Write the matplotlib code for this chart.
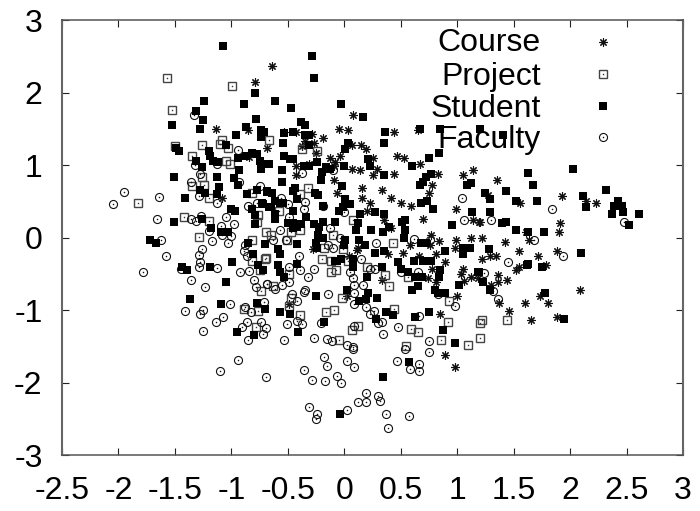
import numpy as np
import matplotlib
matplotlib.use('Agg')
import matplotlib.pyplot as plt

plt.rcParams['font.family'] = ['Liberation Sans', 'DejaVu Sans']
plt.rcParams['axes.unicode_minus'] = False

# values, (x, y)
course = [
    (-0.79,2.14),(-1.14,1.50),(-0.85,1.48),(-0.68,1.23),(-0.84,1.11),(-0.64,2.36),(-1.08,0.55),
    (0.08,1.69),(-0.05,1.50),(0.03,1.48),(0.44,1.45),(0.65,1.48),(-0.53,1.46),(-0.43,1.45),
    (-0.29,1.43),(-0.19,1.37),(-0.35,1.33),(-0.37,1.26),(-0.27,1.30),(-0.25,1.17),(0.07,1.27),
    (0.15,1.28),(0.19,1.22),(-0.13,1.10),(-0.04,1.12),(-0.08,1.04),(-0.09,0.98),(0.25,1.09),
    (0.47,1.12),(0.53,1.09),(0.67,1.01),(-0.43,0.98),(-0.31,1.01),(0.07,0.94),(0.14,0.93),
    (0.29,0.94),(1.14,0.93),(-0.43,0.86),(-0.09,0.80),(0.25,0.86),(0.44,0.87),(0.83,0.88),
    (1.05,0.86),(0.78,0.72),(0.75,0.61),(0.16,0.68),(-0.06,0.61),(0.33,0.66),(0.16,0.55),
    (0.41,0.54),(0.50,0.48),(0.59,0.44),(0.23,0.47),(0.20,0.37),(0.99,0.39),(0.70,0.26),
    (0.35,0.24),(1.14,0.24),(1.19,0.21),(0.41,0.13),(0.77,0.04),(1.12,-0.01),(0.99,-0.03),
    (0.84,-0.05),(0.58,-0.10),(0.76,-0.11),(0.98,-0.14),(-0.28,-0.16),(0.12,-0.15),(0.04,-0.25),
    (0.52,-0.22),(0.39,-0.23),(0.81,-0.23),(0.66,-0.26),(0.89,-0.34),(0.78,-0.44),(1.05,-0.44),
    (1.03,-0.50),(1.12,-0.54),(1.18,-0.56),(1.06,-0.60),(0.74,-0.56),(0.81,-0.62),(0.33,-0.58),
    (1.00,-0.80),(0.02,-0.80),(-0.49,-0.92),(0.11,-0.17),(0.85,-1.06),(0.89,-1.62),(0.98,-1.78),
    (1.35,0.80),(1.27,0.58),(1.56,0.47),(1.93,0.57),(2.14,0.50),(2.23,0.48),(1.20,0.21),
    (1.91,0.20),(1.90,0.08),(1.61,0.08),(1.22,0.00),(1.42,-0.06),(1.64,-0.03),(1.55,-0.18),
    (1.88,-0.19),(1.72,-0.26),(1.22,-0.30),(1.29,-0.25),(1.34,-0.26),(1.79,-0.38),(1.55,-0.41),
    (1.52,-0.45),(1.36,-0.52),(1.44,-0.59),(1.36,-0.62),(1.30,-0.66),(2.09,-0.72),(1.73,-0.81),
    (1.80,-0.90),(1.60,-0.91),(1.37,-0.91),(1.46,-1.02),(1.88,-1.09),(1.65,-1.14),
]

project = [
    (-1.57,2.20),(-0.99,2.09),(-1.53,1.76),(-1.08,1.34),(-1.10,1.29),(-1.03,1.23),(-1.26,1.27),
    (-1.50,1.26),(-1.35,1.12),(-1.05,1.05),(-1.01,1.02),(-0.67,1.34),(-0.37,1.22),(-0.24,1.19),
    (-1.83,0.48),(-1.42,0.28),(-1.20,0.23),(-1.29,0.01),(-1.24,0.73),(-1.26,0.84),(-1.35,0.71),
    (-1.20,0.55),(-0.82,0.61),(-0.76,0.31),(-0.77,0.21),(-0.69,0.07),(-0.82,-0.04),(-0.82,-0.32),
    (-0.69,-0.28),(-0.75,-0.45),(-0.74,-0.74),(-0.89,-0.99),(-0.76,-1.02),(-0.78,-1.23),
    (-0.39,0.60),(-0.32,0.68),(-0.58,0.37),(0.08,0.24),(-0.47,0.08),(-0.39,0.10),(-0.51,-0.03),
    (-0.65,0.03),(-0.10,0.03),(0.43,-0.07),(-0.18,-0.15),(-0.01,-0.16),(-0.70,-0.29),(-0.20,-0.30),
    (-0.12,-0.32),(0.03,-0.33),(0.20,-0.40),(-0.07,-0.45),(-0.12,-0.47),(-0.49,-0.51),(0.36,-0.52),
    (0.56,-0.54),(0.40,-0.67),(-0.63,-0.67),(-0.02,-0.84),(-0.47,-0.84),(-0.49,-0.94),(0.93,-0.88),
    (0.44,-0.98),(-0.09,-1.00),(-0.16,-1.03),(-0.39,-1.07),(0.92,-1.17),(0.07,-1.28),(0.12,-1.22),
    (0.59,-1.26),(0.65,-1.31),(0.86,-1.42),(1.10,-1.48),(-0.05,-1.42),(0.55,-1.50),(1.20,-1.18),
    (1.20,-1.38),(1.44,-1.14),(1.22,-1.14),
]

student = [
    (-1.07,2.64),(-0.79,2.00),(-1.24,1.88),(-0.89,1.84),(-1.31,1.74),(-1.25,1.62),(-0.78,1.64),
    (-1.53,1.55),(-1.28,1.50),(-0.87,1.53),(-0.96,1.42),(-0.74,1.48),(-0.71,1.45),(-0.74,1.39),
    (-1.05,1.28),(-1.49,1.23),(-1.46,1.20),(-1.20,1.19),(-1.19,1.12),(-1.16,1.05),(-1.12,1.04),
    (-1.26,0.97),(-1.31,1.06),(-0.94,1.10),(-0.87,1.13),(-0.82,1.16),(-0.77,1.15),(-0.75,1.06),
    (-0.93,0.93),(-0.74,0.95),(-0.68,1.01),(-1.51,0.83),(-1.13,0.83),(-0.98,0.82),(-0.94,0.72),
    (-1.11,0.69),(-1.28,0.66),(-1.23,0.62),(-1.13,0.60),(-1.41,0.54),(-0.86,0.60),(-0.77,0.66),
    (-0.68,0.63),(-0.73,0.48),(-0.67,0.42),(-0.82,0.39),(-1.00,0.39),(-0.97,0.36),(-0.79,0.31),
    (-0.79,0.19),(-1.26,0.26),(-1.51,0.21),(-1.18,0.13),(-1.09,0.07),(-1.03,0.08),(-1.72,-0.03),
    (-1.67,-0.08),(-0.85,-0.07),(-0.70,-0.09),(-0.81,-0.23),(-0.99,-0.34),(-1.44,-0.40),(-1.39,-0.45),
    (-1.19,-0.40),(-0.76,-0.38),(-0.72,-0.45),(-1.05,-0.62),(-1.37,-0.85),(-1.09,-0.92),(-0.77,-0.90),
    (-0.70,-0.98),(-0.95,-1.31),(-0.80,-1.35),
    (-0.29,2.51),(-0.27,2.20),(-0.61,1.88),(-0.47,1.79),(-0.03,1.84),(0.17,1.66),(-0.38,1.59),
    (-0.35,1.55),(-0.53,1.44),(-0.45,1.46),(-0.35,1.42),(-0.31,1.41),(-0.54,1.31),(-0.31,1.27),
    (0.03,1.30),(0.01,1.22),(0.36,1.46),(0.35,1.31),(0.67,1.49),(0.85,1.49),(1.20,1.50),(1.41,1.42),
    (0.84,1.17),(0.75,1.10),(0.60,0.99),(-0.53,1.13),(-0.48,1.08),(-0.45,1.08),(-0.67,1.01),
    (0.21,1.08),(0.23,0.98),(0.00,0.99),(-0.24,1.04),(-0.36,0.99),(-0.31,0.98),(-0.16,0.97),
    (-0.55,0.93),(-0.55,0.76),(-0.20,0.90),(-0.21,0.80),(-0.13,0.94),(0.35,0.86),(0.77,0.87),
    (0.72,0.83),(0.70,0.76),(0.67,0.72),(1.09,0.73),(1.12,0.75),(-0.44,0.68),(-0.45,0.64),
    (-0.68,0.64),(-0.64,0.62),(-0.26,0.62),(-0.23,0.58),(-0.02,0.71),(-0.42,0.53),(-0.61,0.51),
    (-0.57,0.47),(-0.54,0.47),(-0.72,0.46),(0.01,0.53),(-0.19,0.43),(0.05,0.46),(-0.01,0.42),
    (-0.05,0.36),(-0.65,0.42),(-0.61,0.32),(-0.61,0.26),(-0.45,0.36),(0.14,0.33),(0.27,0.35),
    (0.35,0.33),(0.68,0.48),(0.73,0.50),(0.79,0.40),(1.13,0.35),(-0.34,0.28),(-0.50,0.20),
    (-0.45,0.20),(-0.42,0.15),(-0.38,0.18),(-0.45,0.13),(-0.27,0.18),(-0.22,0.15),(-0.19,0.22),
    (-0.08,0.21),(0.12,0.20),(0.10,0.11),(0.24,0.11),(0.34,0.07),(0.40,0.15),(0.54,0.24),(0.51,0.21),
    (0.54,0.11),(0.53,0.00),(0.95,0.17),(-0.23,0.03),(-0.19,-0.01),(-0.25,-0.08),(-0.24,-0.15),
    (0.01,-0.04),(0.00,-0.10),(0.13,-0.04),(0.18,-0.11),(-0.70,-0.09),(-0.42,-0.09),(-0.59,-0.16),
    (-0.57,-0.23),(0.27,-0.22),(0.35,-0.19),(0.68,-0.07),(0.72,-0.08),(0.89,-0.18),(1.05,-0.14),
    (1.05,-0.23),(1.11,-0.14),(0.62,-0.32),(0.70,-0.33),(0.77,-0.32),(0.48,-0.34),(0.08,-0.29),
    (-0.06,-0.32),(-0.03,-0.29),(-0.08,-0.33),(-0.42,-0.36),(-0.59,-0.38),(-0.72,-0.45),(0.33,-0.40),
    (0.08,-0.41),(0.50,-0.43),(0.56,-0.48),(0.85,-0.45),(1.18,-0.48),(-0.57,-0.48),(-0.53,-0.55),
    (0.63,-0.55),(0.69,-0.55),(0.84,-0.55),(0.20,-0.55),(0.65,-0.67),(0.60,-0.73),(1.02,-0.66),
    (0.80,-0.72),(0.83,-0.76),(0.89,-0.76),(0.21,-0.76),(0.02,-0.72),(-0.25,-0.80),(0.29,-0.83),
    (0.19,-0.85),(0.13,-0.88),(0.75,-1.03),(0.37,-1.03),(0.43,-1.07),(0.63,-1.09),(-0.57,-1.03),
    (-0.48,-1.05),(-0.41,-1.31),(-0.18,-1.17),(0.28,-1.13),(0.87,-1.28),(0.98,-1.45),(0.57,-1.72),
    (0.34,-1.93),(-0.04,-2.44),
    (2.03,0.94),(1.63,0.89),(1.67,0.72),(1.25,0.62),(1.29,0.53),(1.43,0.64),(1.52,0.50),(1.71,0.51),
    (2.11,0.57),(2.14,0.42),(2.32,0.65),(2.42,0.51),(2.39,0.44),(2.46,0.44),(2.37,0.33),(2.47,0.35),
    (2.61,0.32),(2.52,0.17),(1.29,0.35),(1.40,0.20),(1.43,0.21),(1.52,0.11),(1.63,0.07),(1.77,0.08),
    (2.10,-0.22),(1.28,-0.16),(1.63,-0.36),(1.62,-0.38),(1.75,-0.41),(1.19,-0.48),(1.23,-0.62),
    (1.29,-0.73),(1.78,-0.77),(1.95,-1.13),
]

faculty = [
    (-1.33,1.69),(-0.94,1.21),(-1.32,1.00),(-1.13,1.01),(-1.95,0.63),(-2.05,0.46),(-1.64,0.56),
    (-1.66,0.25),(-1.28,0.88),(-1.36,0.76),(-1.29,0.57),(-1.13,0.47),(-1.36,0.25),(-1.31,0.23),
    (-1.27,0.30),(-1.05,0.28),(-0.98,0.19),(-1.09,0.16),(-1.20,0.09),(-1.08,0.04),(-1.00,0.02),
    (-1.62,-0.04),(-1.17,-0.05),(-1.03,-0.08),(-0.88,-0.11),(-0.89,-0.18),(-1.26,-0.16),(-1.29,-0.24),
    (-1.58,-0.25),(-0.86,-0.26),(-1.28,-0.34),(-1.29,-0.41),(-1.45,-0.44),(-1.13,-0.42),(-1.78,-0.47),
    (-0.92,-0.47),(-0.84,-0.46),(-1.36,-0.59),(-1.23,-0.68),(-0.80,-0.59),(-0.78,-0.68),(-0.68,-0.64),
    (-0.71,-0.89),(-1.01,-0.92),(-1.41,-1.02),(-1.25,-1.00),(-1.28,-1.05),(-0.88,-0.96),(-0.83,-1.03),
    (-1.07,-1.10),(-0.85,0.44),(-0.77,0.47),(-0.75,0.71),(-0.93,0.76),(-1.14,-1.17),(-1.25,-1.29),
    (-0.91,-1.24),(-0.86,-1.17),(-0.74,-1.16),(-0.69,-1.25),(-0.72,-1.33),(-0.85,-1.42),(-0.94,-1.69),
    (-1.10,-1.84),(-0.69,-1.92),
    (-0.37,0.89),(-0.10,0.93),(1.04,0.55),(-0.56,0.54),(-0.35,0.49),(-0.50,0.46),(-0.36,0.40),
    (-0.19,0.43),(0.00,0.35),(-0.49,0.28),(1.06,0.24),(-0.57,0.11),(-0.13,0.13),(-0.04,0.00),
    (-0.63,-0.04),(-0.52,-0.03),(0.28,-0.07),(0.62,-0.02),(0.76,-0.04),(-0.14,-0.11),(-0.10,-0.15),
    (-0.40,-0.25),(0.15,-0.30),(-0.49,-0.40),(-0.39,-0.45),(-0.27,-0.43),(0.23,-0.43),(0.27,-0.44),
    (0.05,-0.47),(-0.32,-0.55),(0.08,-0.56),(0.50,-0.47),(0.65,-0.48),(-0.68,-0.64),(-0.61,-0.71),
    (-0.55,-0.66),(-0.49,-0.62),(-0.35,-0.72),(-0.36,-0.75),(0.09,-0.66),(0.17,-0.65),(0.09,-0.77),
    (-0.14,-0.78),(-0.46,-0.78),(-0.42,-0.88),(0.09,-0.92),(0.19,-0.96),(0.26,-1.01),(0.23,-1.06),
    (0.83,-0.78),(0.98,-0.94),(0.66,-1.08),(-0.51,-1.19),(-0.42,-1.15),(-0.37,-1.19),(-0.53,-1.41),
    (-0.27,-1.38),(-0.21,-1.18),(-0.15,-1.40),(-0.11,-1.43),(0.02,-1.48),(0.08,-1.51),(0.08,-1.54),
    (0.09,-1.22),(0.30,-1.18),(0.33,-1.17),(0.34,-1.33),(0.48,-1.24),(0.75,-1.43),(0.75,-1.58),
    (0.54,-1.54),(0.47,-1.71),(0.66,-1.74),(0.58,-1.82),(0.66,-1.84),(-0.18,-1.65),(-0.15,-1.77),
    (0.02,-1.70),(0.09,-1.79),(-0.36,-1.83),(-0.29,-1.96),(-0.17,-1.98),(-0.06,-1.91),(-0.03,-2.01),
    (0.19,-2.14),(0.30,-2.18),(0.32,-2.26),(0.12,-2.27),(0.19,-2.27),(-0.31,-2.34),(-0.24,-2.43),
    (-0.25,-2.50),(0.02,-2.38),(0.37,-2.43),(0.57,-2.46),(0.39,-2.63),
    (1.30,0.24),(1.84,0.39),(2.48,0.22),(1.68,-0.04),(1.94,-0.25),(1.45,-0.34),(1.24,-0.49),
    (1.32,-0.74),(1.36,-0.85),
]

x_ticks = [-2.5, -2, -1.5, -1, -0.5, 0, 0.5, 1, 1.5, 2, 2.5, 3]
x_labels = ['-2.5', '-2', '-1.5', '-1', '-0.5', '0', '0.5', '1', '1.5', '2', '2.5', '3']
y_ticks = [-3, -2, -1, 0, 1, 2, 3]
key_names = ['Course', 'Project', 'Student', 'Faculty']

fig = plt.figure(figsize=(7.0, 5.11), dpi=100)
ax = fig.add_axes([62/700, 1-455/511, 621/700, 435/511])


def draw_course(ax, x, y, **kw):
    ax.plot(x, y, ls='none', marker=(8, 2, 0), ms=6, mew=0.8, color='#111111', zorder=3, **kw)


def draw_project(ax, x, y, **kw):
    ax.plot(x, y, ls='none', marker='s', ms=6.2, mew=1.0, mfc='none', mec='#444444', zorder=4, **kw)
    ax.plot(x, y, ls='none', marker='s', ms=1, mew=0, color='#333333', zorder=4, **kw)


def draw_faculty(ax, x, y, **kw):
    ax.plot(x, y, ls='none', marker='o', ms=5.8, mew=0.8, mfc='none', mec='#111111', zorder=4, **kw)
    ax.plot(x, y, ls='none', marker='o', ms=1.1, mew=0, color='#111111', zorder=4, **kw)


def draw_student(ax, x, y, **kw):
    ax.plot(x, y, ls='none', marker='s', ms=5.2, mew=0, color='black', zorder=5, **kw)


draw_course(ax, *np.array(course).T)
draw_project(ax, *np.array(project).T)
draw_faculty(ax, *np.array(faculty).T)
draw_student(ax, *np.array(student).T)

# key, top right
text_y = [0.946, 0.869, 0.795, 0.723]
mark_y = [0.950, 0.875, 0.802, 0.730]
key_funcs = [draw_course, draw_project, draw_student, draw_faculty]
for name, ty, my, func in zip(key_names, text_y, mark_y, key_funcs):
    ax.text(0.771, ty, name, transform=ax.transAxes, ha='right', va='center',
            fontsize=23, color='black', zorder=2)
    func(ax, [0.871], [my], transform=ax.transAxes, clip_on=False)

ax.set_xlim(-2.5, 3)
ax.set_ylim(-3, 3)
ax.set_xticks(x_ticks)
ax.set_xticklabels(x_labels)
ax.set_yticks(y_ticks)
ax.tick_params(direction='in', length=5, width=0.8, top=True, right=True,
               labelsize=23, color='#222222')
ax.tick_params(axis='x', pad=15)
ax.tick_params(axis='y', pad=14)
for side in ['left', 'right']:
    ax.spines[side].set_linewidth(1.5)
    ax.spines[side].set_color('#666666')
for side in ['top', 'bottom']:
    ax.spines[side].set_linewidth(1.1)
    ax.spines[side].set_color('#555555')

fig.savefig('out.png', dpi=100)
